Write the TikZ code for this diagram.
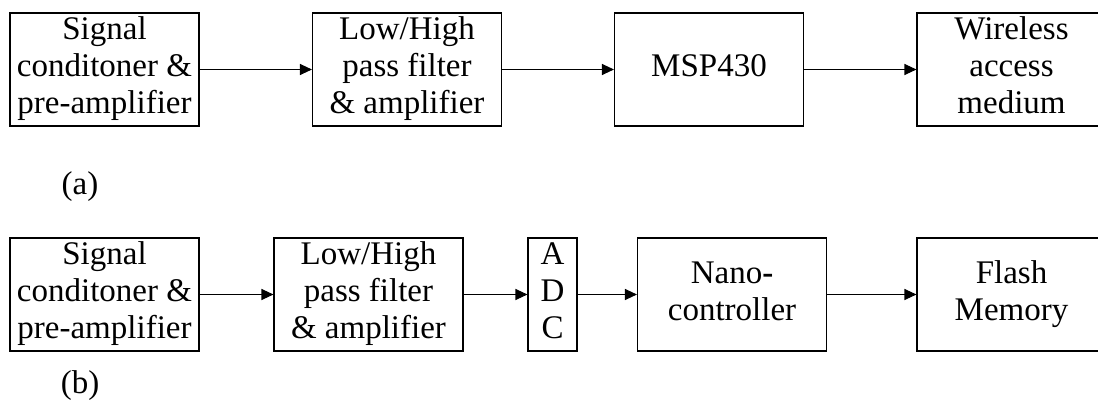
\documentclass[tikz,border=0pt]{standalone}
\usepackage{fontspec}
\setmainfont{Liberation Serif}
\usetikzlibrary{arrows.meta}
% every line of a block gets a strut so that all blocks share the same baselines
\newcommand\bl[1]{\strut#1}
\begin{document}
\begin{tikzpicture}[x=1pt,y=-1pt,
  txt/.style={font=\fontsize{33}{37}\selectfont},
  blk/.style={txt,draw,line width=1.1pt,minimum height=113pt,inner sep=0pt,align=center},
  wide/.style={blk,minimum width=189pt},
  narrow/.style={blk,minimum width=49pt},
  link/.style={line width=1.1pt,-{Triangle[length=12pt,width=11pt]}}]
\useasboundingbox (0,0) rectangle (1098,403);
\fill[white] (0,0) rectangle (1098,403);
\clip (0,0) rectangle (1098,403);

% (a) wireless node
\node[wide] (a1) at (104.5,69.5) {\bl{Signal}\\\bl{conditoner \&}\\\bl{pre-amplifier}};
\node[wide] (a2) at (407,69.5) {\bl{Low/High}\\\bl{pass filter}\\\bl{\& amplifier}};
\node[wide] (a3) at (709,69.5) {\bl{MSP430}};
\node[wide] (a4) at (1011.5,69.5) {\bl{Wireless}\\\bl{access}\\\bl{medium}};
\draw[link] (a1) -- (a2);
\draw[link] (a2) -- (a3);
\draw[link] (a3) -- (a4);
\node[txt] (capa) at (80,187) {(a)};

% (b) logging node
\node[wide] (b1) at (104.5,294.5) {\bl{Signal}\\\bl{conditoner \&}\\\bl{pre-amplifier}};
\node[wide] (b2) at (368.5,294.5) {\bl{Low/High}\\\bl{pass filter}\\\bl{\& amplifier}};
\node[narrow] (b3) at (552.5,294.5) {\bl{A}\\\bl{D}\\\bl{C}};
\node[wide] (b4) at (732,294.5) {\bl{Nano\textbf{-}}\\\bl{controller}};
\node[wide] (b5) at (1011.5,294.5) {\bl{Flash}\\\bl{Memory}};
\draw[link] (b1) -- (b2);
\draw[link] (b2) -- (b3);
\draw[link] (b3) -- (b4);
\draw[link] (b4) -- (b5);
\node[txt] (capb) at (80,386) {(b)};
\end{tikzpicture}
\end{document}
